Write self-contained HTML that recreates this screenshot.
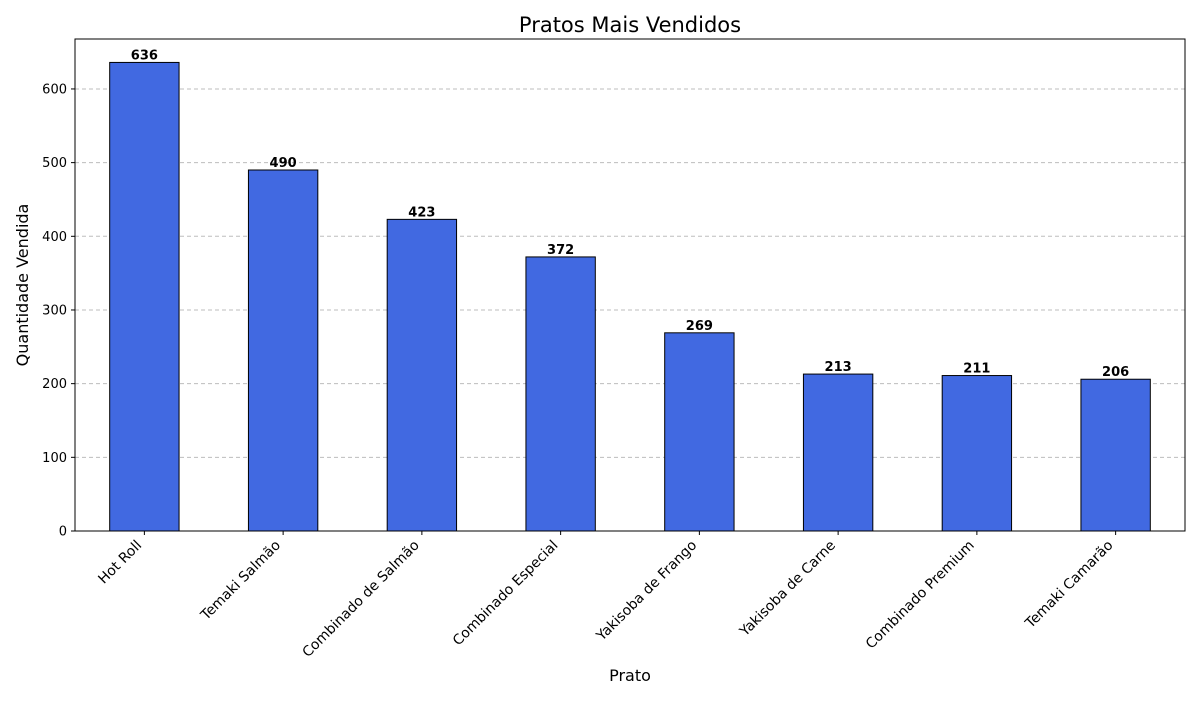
<!DOCTYPE html>
<html><head><meta charset="utf-8"><style>
html,body{margin:0;padding:0;background:#fff;}
svg text{font-family:"DejaVu Sans","Liberation Sans",sans-serif;}
</style></head><body>
<svg id="chart" width="1200" height="700" xmlns="http://www.w3.org/2000/svg">
<rect width="1200" height="700" fill="#fff"/>
<text x="630" y="32" font-size="21" text-anchor="middle">Pratos Mais Vendidos</text>
<g id="grid"></g>
<g id="bars"></g>
<g id="axes"></g>
<text x="630" y="681" font-size="16" text-anchor="middle">Prato</text>
<text transform="translate(28,285) rotate(-90)" font-size="16" text-anchor="middle">Quantidade Vendida</text>
</svg>
<script>
const categories=["Hot Roll","Temaki Salmão","Combinado de Salmão","Combinado Especial","Yakisoba de Frango","Yakisoba de Carne","Combinado Premium","Temaki Camarão"];
const values=[636,490,423,372,269,213,211,206];
const yTicks=[0,100,200,300,400,500,600];
const L=75,R=1185,T=39,B=531;
const ymax=Math.max(...values)*1.05;
const y=v=>B-(v/ymax)*(B-T);
const step=(R-L)/categories.length;
const x=i=>L+step*(i+0.5);
const NS="http://www.w3.org/2000/svg";
function mk(t,a,p){const e=document.createElementNS(NS,t);for(const k in a)e.setAttribute(k,a[k]);p.appendChild(e);return e;}
const grid=document.getElementById('grid'),bars=document.getElementById('bars'),axes=document.getElementById('axes');
yTicks.forEach(v=>{
 if(v>0){const g=mk('line',{x1:L,x2:R,y1:y(v),y2:y(v),stroke:'#bdbdbd','stroke-dasharray':'4,3','stroke-width':1},grid);
 
 }
 const tk=mk('line',{x1:L-4,x2:L,y1:y(v),y2:y(v),stroke:'#000'},axes);
 
 
 const t=mk('text',{x:L-8,y:y(v)+4.5,'font-size':13,'text-anchor':'end'},axes);t.textContent=v;
 
 
});
const bw=step*0.5;
categories.forEach((c,i)=>{
 const r=mk('rect',{x:x(i)-bw/2,y:y(values[i]),width:bw,height:B-y(values[i]),fill:'#4169e1',stroke:'#000','stroke-width':1},bars);
 
 
 const vl=mk('text',{x:x(i),y:y(values[i])-3,'font-size':13,'font-weight':'bold','text-anchor':'middle'},bars);vl.textContent=values[i];
 
 
 const tk=mk('line',{x1:x(i),x2:x(i),y1:B,y2:B+4,stroke:'#000'},axes);
 
 
 const t=mk('text',{x:0,y:0,'font-size':14,'text-anchor':'end',transform:`translate(${x(i)-2},${B+15}) rotate(-45)`},axes);t.textContent=c;
 
 
});
const fr=mk('rect',{x:L,y:T,width:R-L,height:B-T,fill:'none',stroke:'#000','stroke-width':1},axes);


</script>
</body></html>
